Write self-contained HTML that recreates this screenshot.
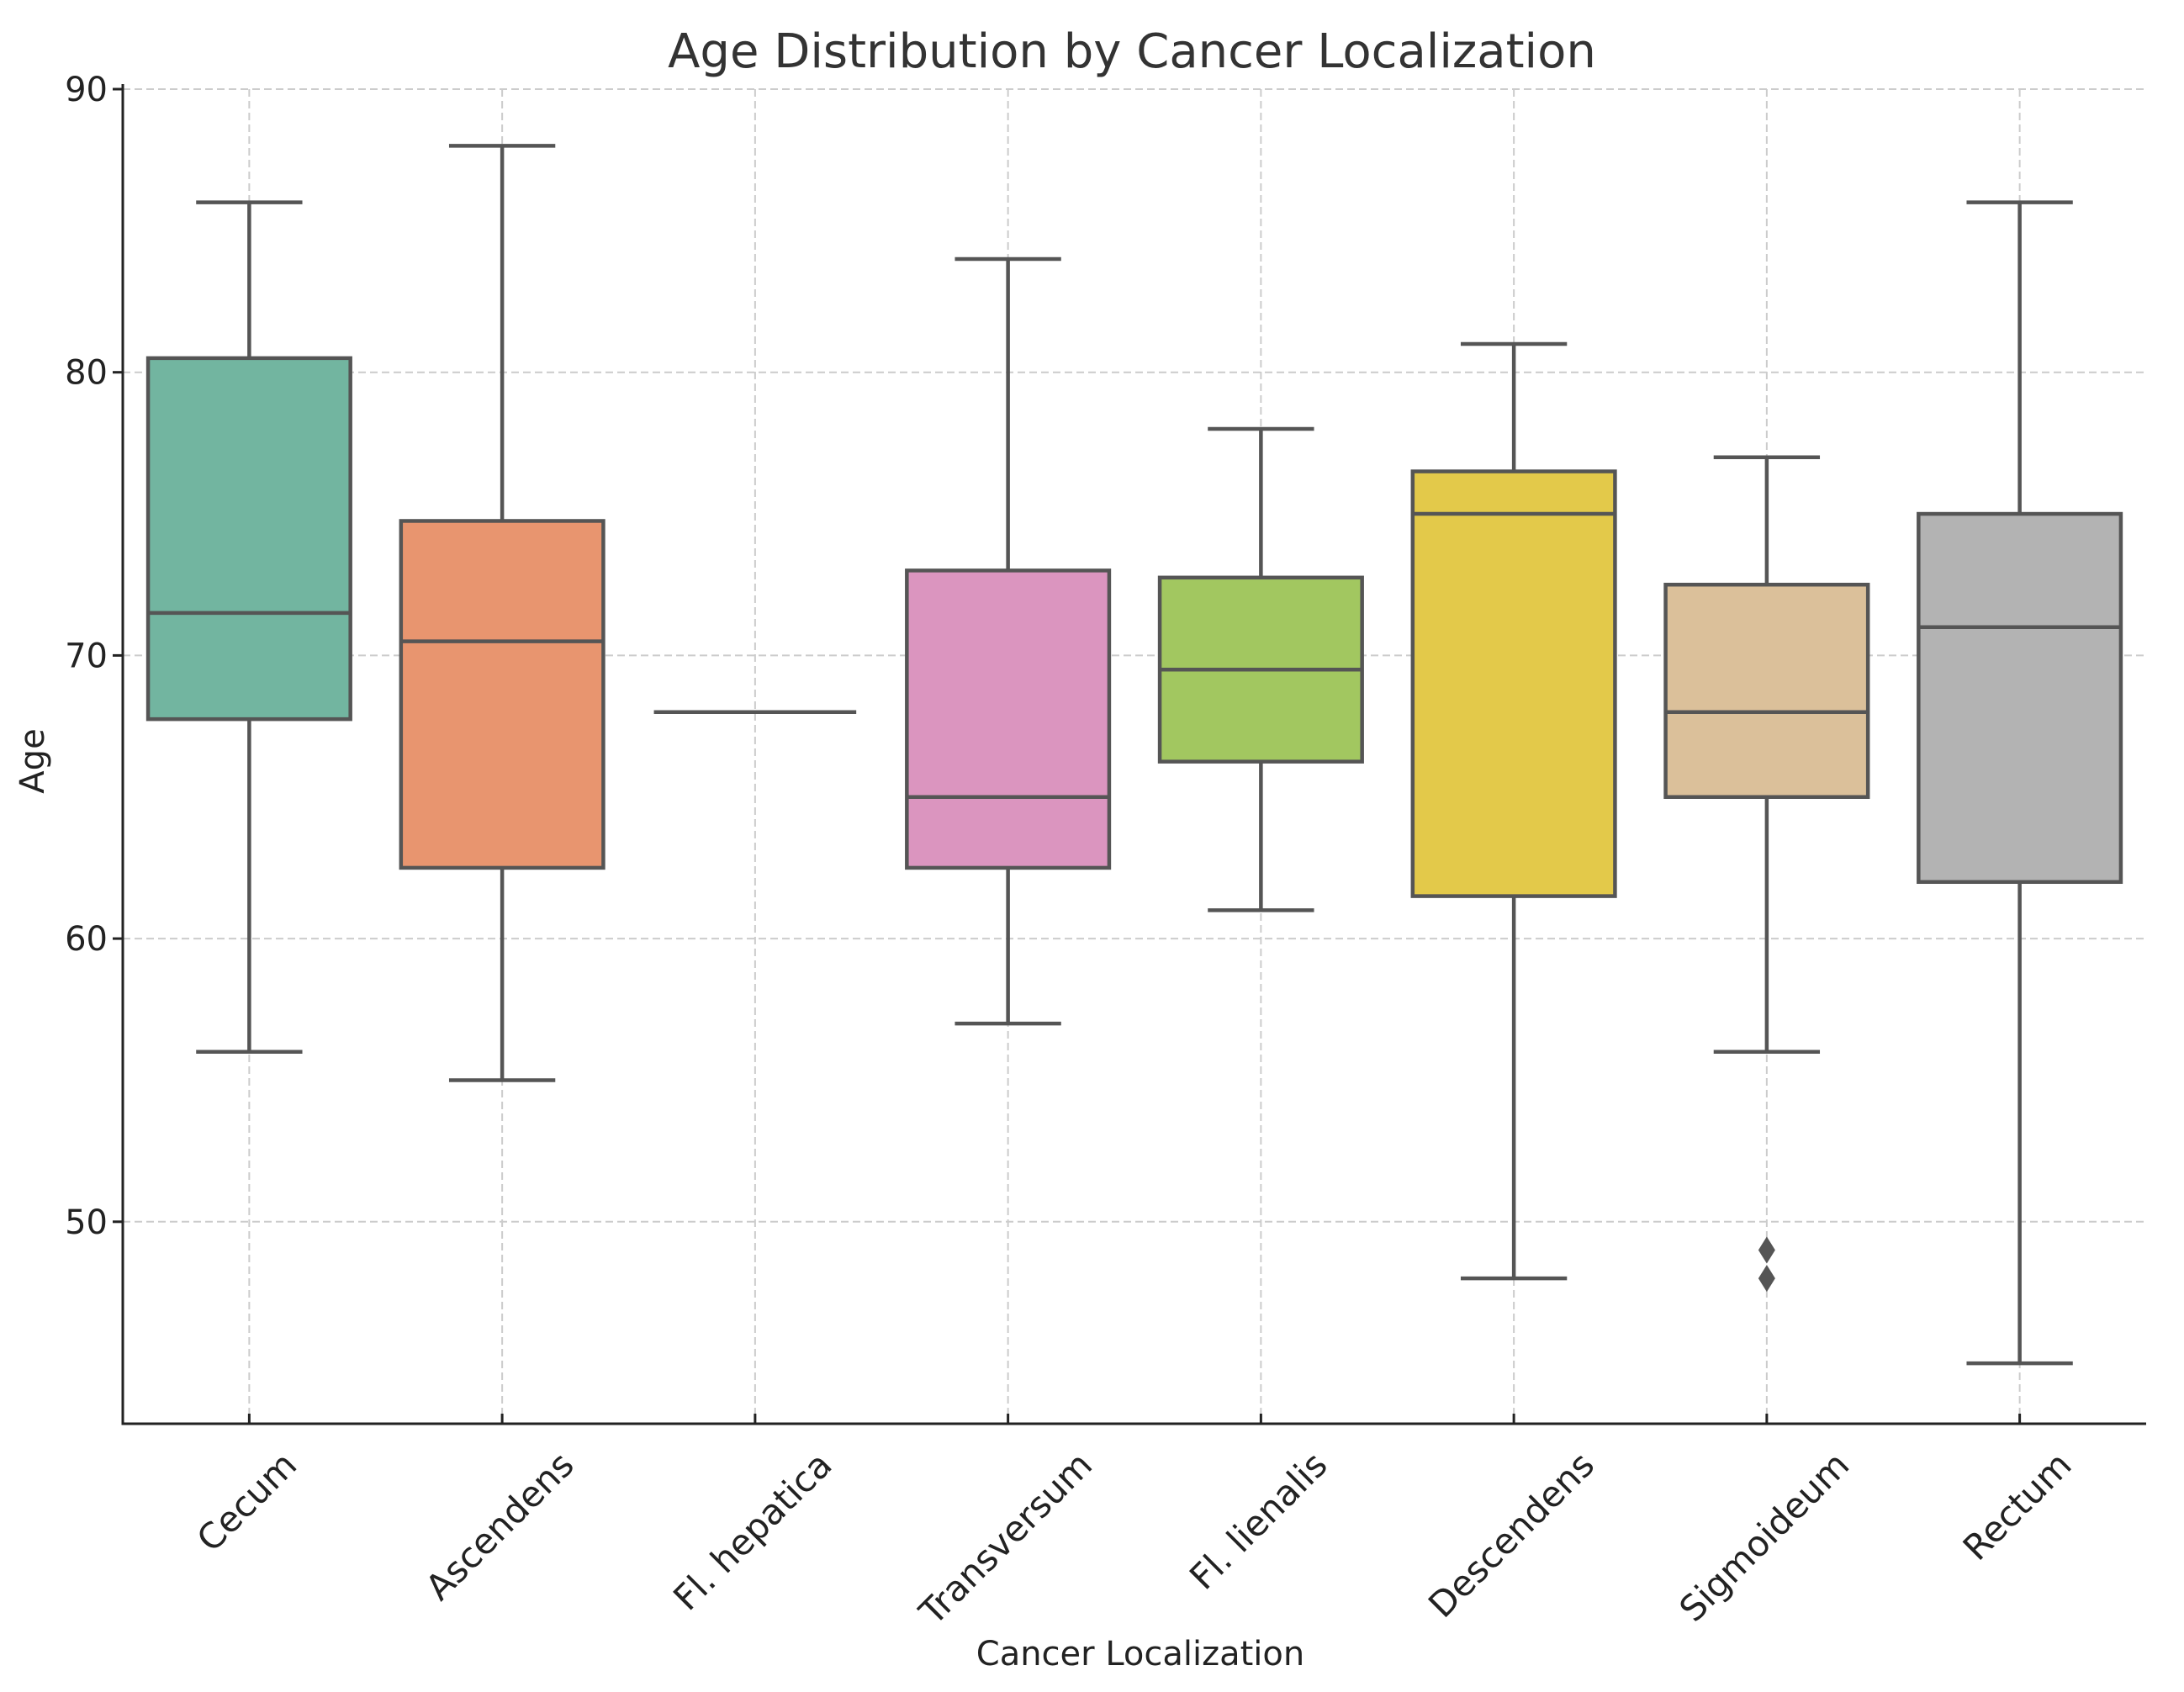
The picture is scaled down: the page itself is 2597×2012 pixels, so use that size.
<!DOCTYPE html>
<html><head><meta charset="utf-8"><style>
html,body{margin:0;padding:0;background:#fff;}
svg{display:block;font-family:"DejaVu Sans","Liberation Sans",sans-serif;}
</style></head><body>
<svg id="chart" width="2597" height="2012" viewBox="0 0 2597 2012" xmlns="http://www.w3.org/2000/svg">
<rect width="2597" height="2012" fill="#fff"/>
<g id="grid"></g>
<g id="boxes"></g>
<g id="axes"></g>
<text x="1346" y="80" font-size="56" fill="#333" text-anchor="middle">Age Distribution by Cancer Localization</text>
<text x="1356" y="1980" font-size="40" fill="#222" text-anchor="middle">Cancer Localization</text>
<text x="52" y="905" font-size="40" fill="#222" text-anchor="middle" transform="rotate(-90 52 905)">Age</text>
</svg>
<script>
const categories = ["Cecum","Ascendens","Fl. hepatica","Transversum","Fl. lienalis","Descendens","Sigmoideum","Rectum"];
const whiskerLow = [56,55,68,57,61,48,56,45];
const q1 = [67.75,62.5,68,62.5,66.25,61.5,65,62];
const median = [71.5,70.5,68,65,69.5,75,68,71];
const q3 = [80.5,74.75,68,73,72.75,76.5,72.5,75];
const whiskerHigh = [86,88,68,84,78,81,77,86];
const outlierCat = [6,6];
const outlierVal = [49,48];
const colors = ["#72b5a0","#e8956f","#8da0cb","#db95bf","#a2c760","#e3c94a","#dbc09a","#b3b3b3"];
const yTicks = [50,60,70,80,90];

const NS="http://www.w3.org/2000/svg";
const plotLeft=146, plotRight=2552, plotTop=106, plotBottom=1693;
const yMax=90, pxPerUnit=33.67;
const band=(plotRight-plotLeft)/categories.length;
function xS(i){return plotLeft+band*(i+0.5);}
function yS(v){return plotTop+(yMax-v)*pxPerUnit;}
function mk(parent,tag,attrs){const e=document.createElementNS(NS,tag);for(const k in attrs)e.setAttribute(k,attrs[k]);parent.appendChild(e);return e;}
const grid=document.getElementById('grid'), boxes=document.getElementById('boxes'), axes=document.getElementById('axes');
yTicks.forEach(t=>{
  const l=mk(grid,'line',{x1:plotLeft,x2:plotRight,y1:yS(t),y2:yS(t),stroke:'#cccccc','stroke-width':2,'stroke-dasharray':'9,5'});
  
  
  const tk=mk(axes,'line',{x1:plotLeft-12,x2:plotLeft,y1:yS(t),y2:yS(t),stroke:'#222','stroke-width':3});
  
  
  const tx=mk(axes,'text',{x:plotLeft-18,y:yS(t)+14,'font-size':40,fill:'#222','text-anchor':'end'});
  tx.textContent=t;
  
  
});
categories.forEach((c,i)=>{
  const l=mk(grid,'line',{x1:xS(i),x2:xS(i),y1:plotTop,y2:plotBottom,stroke:'#cccccc','stroke-width':2,'stroke-dasharray':'9,5'});
  
  
});
const bw=band*0.8, cw=band*0.21, lc='#555555', lw=4.5;
categories.forEach((c,i)=>{
  const x=xS(i);
  const g=mk(boxes,'g',{});
  
  
  mk(g,'line',{x1:x,x2:x,y1:yS(whiskerHigh[i]),y2:yS(q3[i]),stroke:lc,'stroke-width':lw});
  mk(g,'line',{x1:x,x2:x,y1:yS(q1[i]),y2:yS(whiskerLow[i]),stroke:lc,'stroke-width':lw});
  mk(g,'line',{x1:x-cw,x2:x+cw,y1:yS(whiskerHigh[i]),y2:yS(whiskerHigh[i]),stroke:lc,'stroke-width':lw});
  mk(g,'line',{x1:x-cw,x2:x+cw,y1:yS(whiskerLow[i]),y2:yS(whiskerLow[i]),stroke:lc,'stroke-width':lw});
  mk(g,'rect',{x:x-bw/2,y:yS(q3[i]),width:bw,height:Math.max(0,yS(q1[i])-yS(q3[i])),fill:colors[i],stroke:lc,'stroke-width':lw});
  mk(g,'line',{x1:x-bw/2,x2:x+bw/2,y1:yS(median[i]),y2:yS(median[i]),stroke:lc,'stroke-width':lw});
});
outlierVal.forEach((v,k)=>{
  const x=xS(outlierCat[k]), y=yS(v);
  const p=mk(boxes,'polygon',{points:`${x},${y-16} ${x+10},${y} ${x},${y+16} ${x-10},${y}`,fill:'#555'});
  
  
});
mk(axes,'line',{x1:plotLeft,x2:plotLeft,y1:plotTop-6,y2:plotBottom+1.5,stroke:'#222','stroke-width':3});
mk(axes,'line',{x1:plotLeft-1.5,x2:plotRight,y1:plotBottom,y2:plotBottom,stroke:'#222','stroke-width':3});
const svgEl=document.getElementById('chart');
categories.forEach((c,i)=>{
  const x=xS(i);
  const tk=mk(axes,'line',{x1:x,x2:x,y1:plotBottom-12,y2:plotBottom,stroke:'#222','stroke-width':3});
  
  
  const t=mk(axes,'text',{x:0,y:0,'font-size':42,fill:'#222','text-anchor':'middle'});
  t.textContent=c;
  
  
  t.setAttribute('transform','rotate(-45)');
  const b=t.getBoundingClientRect();
  const svgB=svgEl.getBoundingClientRect();
  const cx=(b.left+b.right)/2-svgB.left, ty=b.top-svgB.top;
  t.setAttribute('transform',`translate(${x-cx-3},${plotBottom+24-ty}) rotate(-45)`);
});
</script>
</body></html>
